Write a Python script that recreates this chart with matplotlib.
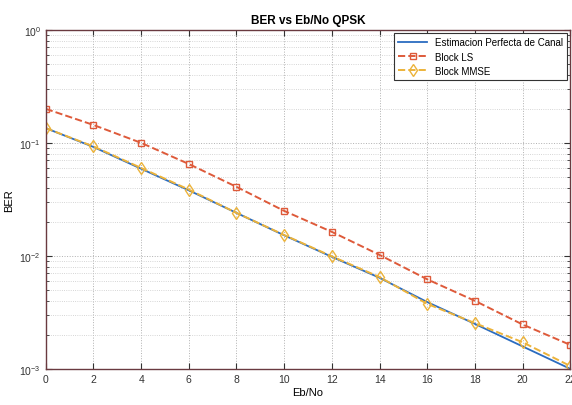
import matplotlib
matplotlib.use("Agg")
import matplotlib.pyplot as plt
import numpy as np

plt.rcParams['font.family'] = ['Liberation Sans', 'DejaVu Sans']

ebno = [0, 2, 4, 6, 8, 10, 12, 14, 16, 18, 20, 22]
ber_perfect = [0.135, 0.092, 0.059, 0.038, 0.024, 0.0152, 0.0098, 0.0064,
               0.0039, 0.0025, 0.00158, 0.0010]
ber_ls = [0.200, 0.144, 0.100, 0.065, 0.0408, 0.025, 0.0163, 0.0102,
          0.0062, 0.0040, 0.00247, 0.00163]
ber_mmse = [0.135, 0.093, 0.060, 0.0386, 0.024, 0.0153, 0.0099, 0.0065,
            0.00376, 0.00254, 0.00172, 0.00106]
labels = ['Estimacion Perfecta de Canal', 'Block LS', 'Block MMSE']

fig = plt.figure(figsize=(5.72, 4.06), dpi=100)
ax = fig.add_axes([0.080, 0.089, 0.917, 0.835])

ax.semilogy(ebno, ber_perfect, '-', color='#2b6cc0', lw=1.3, label=labels[0])
ax.semilogy(ebno, ber_ls, '--s', color='#de5a3a', lw=1.4, ms=5,
            mfc='none', mew=1.0, label=labels[1])
ax.semilogy(ebno, ber_mmse, '--d', color='#ecb33a', lw=1.4, ms=6.5,
            mfc='none', mew=1.0, label=labels[2])

ax.set_xlim(0, 22)
ax.set_ylim(1e-3, 1)
ax.set_xticks(np.arange(0, 23, 2))
ax.grid(True, which='major', ls=':', color='#b0b0b0', lw=0.7)
ax.grid(True, which='minor', ls=':', color='#c8c8c8', lw=0.6)
ax.tick_params(which='both', direction='in', top=True, right=True,
               labelsize=7.5, colors='#333333')
ax.tick_params(which='major', length=4)
ax.tick_params(which='minor', length=2)
for s in ax.spines.values():
    s.set_color('#6a3a40')
    s.set_linewidth(1.0)

ax.set_title('BER vs Eb/No QPSK', fontsize=8.5, fontweight='bold', pad=5)
ax.set_xlabel('Eb/No', fontsize=8, labelpad=2)
ax.set_ylabel('BER', fontsize=8, labelpad=4)

leg = ax.legend(loc='upper right', fontsize=7, fancybox=False,
                framealpha=1, edgecolor='#333333', handlelength=3,
                borderpad=0.45, labelspacing=0.45, borderaxespad=0.3)
leg.get_frame().set_linewidth(0.8)

fig.savefig('out.png', dpi=100)
